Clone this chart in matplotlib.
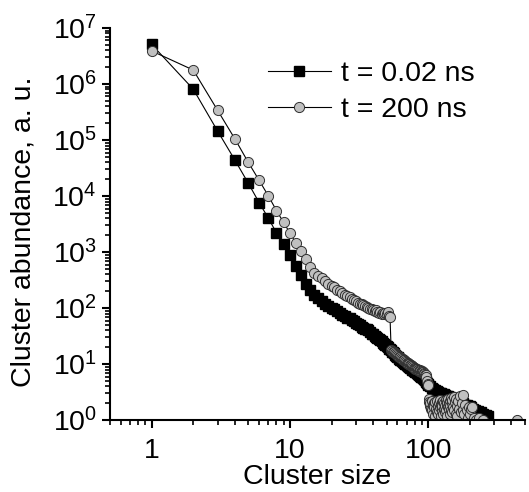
import numpy as np
import matplotlib
matplotlib.use("Agg")
import matplotlib.pyplot as plt
from matplotlib.ticker import LogLocator, NullFormatter, FixedLocator, FixedFormatter

plt.rcParams['font.family'] = ['Liberation Sans', 'DejaVu Sans']
plt.rcParams['mathtext.default'] = 'regular'

# t = 0.02 ns (squares)
size_fast = list(range(1, 101)) + [103, 106, 109, 112, 115, 118, 121, 124, 127, 130,
                                   133, 136, 139, 142, 145, 148, 151, 154, 157, 160,
                                   164, 168, 172, 176, 180, 185, 190, 195, 200, 205,
                                   212, 220, 230, 240, 250, 260, 270]
abund_fast = [5.1e6, 8.1e5, 1.45e5, 4.4e4, 1.7e4, 7.6e3, 4.0e3, 2.2e3, 1.4e3, 890,
              570, 390, 275, 210, 175, 150, 135, 120, 110, 102,
              95, 88, 82, 76, 72, 68, 66, 62, 58, 55,
              52, 50, 47, 45, 43, 42, 40, 37, 35, 34,
              32, 31, 29, 28, 27, 26, 24, 23, 22, 21,
              20, 19, 18.5, 17.8, 16.6, 16.2, 15.5, 14.8, 14.1, 13.5,
              13.2, 12.6, 12.0, 11.8, 11.5, 11.0, 10.5, 10.2, 10.0, 9.8,
              9.3, 9.1, 8.9, 8.7, 8.5, 8.3, 8.0, 7.9, 7.6, 7.6,
              7.2, 7.1, 6.9, 6.8, 6.8, 6.5, 6.3, 6.2, 6.0, 6.0,
              5.8, 5.6, 5.5, 5.4, 5.2, 5.0, 4.9, 4.7, 4.5, 4.3,
              4.0, 3.8, 3.6, 3.5, 3.3, 3.2, 3.1, 3.0, 2.9, 2.9,
              2.8, 2.7, 2.7, 2.6, 2.6, 2.5, 2.5, 2.4, 2.4, 2.3,
              2.3, 2.2, 2.1, 2.1, 2.0, 1.9, 1.9, 1.8, 1.8, 1.7,
              1.6, 1.55, 1.45, 1.4, 1.3, 1.25, 1.2]

# t = 200 ns (circles)
size_slow = list(range(1, 151)) + [152, 154, 155, 157, 158, 160, 162, 163, 165, 167,
                                   170, 172, 175, 178, 180, 183, 186, 190, 193, 196,
                                   200, 205, 209, 215, 222, 232, 250, 440]
abund_slow = [3.9e6, 1.78e6, 3.4e5, 1.05e5, 4.0e4, 1.9e4, 1.0e4, 5.5e3, 3.4e3, 2.2e3,
              1.48e3, 1.05e3, 740, 550, 430, 370, 340, 300, 275, 250,
              235, 215, 200, 186, 174, 162, 155, 145, 138, 132,
              126, 120, 117, 112, 110, 105, 102, 98, 96, 93,
              89, 91, 87, 83, 85, 79, 81, 78, 83, 79,
              85, 72, 69, 18.2, 17.4, 16.6, 16.2, 15.8, 15.1, 14.5,
              14.1, 13.5, 13.2, 12.9, 12.3, 12.0, 11.7, 11.5, 11.0, 10.7,
              10.5, 10.2, 10.0, 9.8, 9.5, 9.1, 9.1, 8.9, 8.7, 8.5,
              8.3, 8.1, 8.3, 7.9, 7.9, 7.6, 7.8, 7.4, 7.2, 7.4,
              7.1, 7.2, 6.9, 6.8, 6.5, 6.3, 5.8, 5.0, 4.5, 4.2,
              2.4, 2.1, 1.8, 2.0, 1.6, 2.2, 1.5, 1.9, 1.3, 2.0,
              1.7, 1.2, 2.1, 1.6, 1.4, 2.2, 1.8, 1.3, 2.0, 1.5,
              2.3, 1.7, 1.2, 1.9, 2.1, 1.5, 1.8, 1.3, 2.2, 1.6,
              2.0, 1.4, 1.8, 2.3, 1.5, 1.9, 1.2, 2.1, 1.7, 2.4,
              1.6, 2.0, 1.3, 2.2, 1.8, 2.5, 1.5, 2.0, 1.4, 2.3,
              1.7, 2.6, 1.5, 2.1, 1.3, 2.4, 1.8, 1.2, 2.2, 1.6,
              2.7, 1.4, 2.0, 1.5, 2.8, 1.3, 1.9, 1.5, 1.1, 1.7,
              1.3, 1.6, 1.7, 1.1, 1.0, 1.1, 1.0, 1.0]

fig = plt.figure(figsize=(5.29, 4.92), dpi=100)
ax = fig.add_axes([0.208, 0.146, 0.784, 0.797])

ax.plot(size_fast, abund_fast, color='black', linewidth=0.8, marker='s',
        markersize=6.8, markerfacecolor='black', markeredgecolor='black',
        label='t = 0.02 ns')
ax.plot(size_slow, abund_slow, color='black', linewidth=0.8, marker='o',
        markersize=7.3, markerfacecolor='#c0c0c0', markeredgecolor='#303030',
        markeredgewidth=0.7, label='t = 200 ns')

ax.set_xscale('log')
ax.set_yscale('log')
ax.set_xlim(0.5, 500)
ax.set_ylim(1, 1e7)

ax.spines['top'].set_visible(False)
ax.spines['right'].set_visible(False)
ax.spines['left'].set_linewidth(1.5)
ax.spines['bottom'].set_linewidth(1.5)

ax.xaxis.set_major_locator(FixedLocator([1, 10, 100]))
ax.xaxis.set_major_formatter(FixedFormatter(['1', '10', '100']))
ax.xaxis.set_minor_locator(LogLocator(base=10, subs=np.arange(2, 10), numticks=20))
ax.xaxis.set_minor_formatter(NullFormatter())
ax.yaxis.set_major_locator(LogLocator(base=10, numticks=20))
ax.yaxis.set_minor_locator(LogLocator(base=10, subs=np.arange(2, 10), numticks=20))
ax.yaxis.set_minor_formatter(NullFormatter())

ax.tick_params(which='major', direction='out', length=6, width=1.5, labelsize=20.5)
ax.tick_params(which='minor', direction='out', length=3.5, width=1.2)
ax.tick_params(axis='x', which='major', pad=7)

ax.set_xlabel('Cluster size', fontsize=20.5, labelpad=0)
ax.set_ylabel('Cluster abundance, a. u.', fontsize=20.5)
ax.yaxis.set_label_coords(-0.178, 0.48)

ax.legend(loc='upper left', bbox_to_anchor=(268 / 529, 1 - 61 / 492),
          bbox_transform=fig.transFigure, frameon=False, fontsize=20.5,
          borderpad=0, borderaxespad=0, handlelength=2.2, handletextpad=0.35,
          labelspacing=0.36)

fig.savefig('out.png', dpi=100)
